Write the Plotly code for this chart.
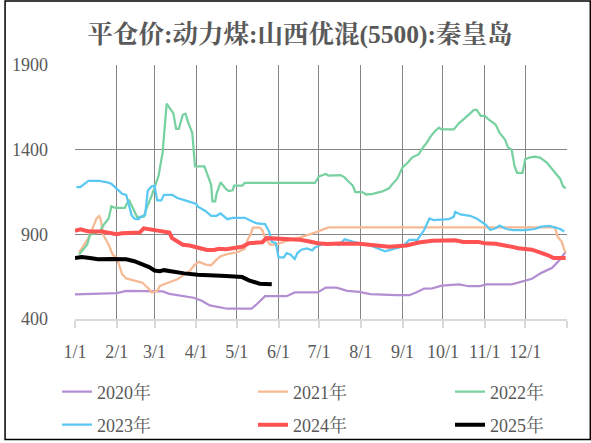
import plotly.graph_objects as go

# ---------------- data ----------------
tick_dates = ["01-01", "02-01", "03-01", "04-01", "05-01", "06-01",
              "07-01", "08-01", "09-01", "10-01", "11-01", "12-01"]
tick_labels = ["1/1", "2/1", "3/1", "4/1", "5/1", "6/1",
               "7/1", "8/1", "9/1", "10/1", "11/1", "12/1"]
y_ticks = [400, 900, 1400, 1900]

series_names = ["2020年", "2021年", "2022年", "2023年", "2024年", "2025年"]

dates_2020 = ["01-01", "02-01", "02-08", "03-07", "03-12", "03-30", "04-05", "04-11",
              "04-24", "05-12", "05-16", "05-22", "06-07", "06-13", "06-30", "07-06",
              "07-14", "07-22", "07-31", "08-08", "08-27", "09-06", "09-11", "09-17",
              "09-23", "09-30", "10-13", "10-20", "10-28", "11-02", "11-21", "11-29",
              "12-06", "12-13", "12-21", "12-26", "12-29", "12-31"]
prices_2020 = [545, 552, 565, 562, 548, 525, 507, 480,
               460, 460, 488, 534, 534, 556, 556, 585,
               585, 566, 560, 546, 540, 540, 556, 579,
               581, 597, 604, 593, 593, 604, 604, 620,
               637, 672, 702, 744, 779, 795]

dates_2021 = ["01-04", "01-08", "01-11", "01-15", "01-17", "01-19", "01-20", "01-22",
              "01-26", "01-29", "02-01", "02-03", "02-05", "02-08", "02-14", "02-20",
              "02-25", "02-27", "03-03", "03-05", "03-11", "03-18", "03-23", "03-27",
              "03-31", "04-03", "04-08", "04-12", "04-16", "04-19", "04-24", "05-02",
              "05-07", "05-09", "05-11", "05-13", "05-18", "05-20", "05-22", "05-26",
              "05-31", "06-07", "06-17", "06-28", "07-08", "12-23", "12-25", "12-28",
              "12-30", "12-31"]
prices_2021 = [792, 838, 877, 954, 993, 1007, 990, 896,
               838, 779, 760, 711, 663, 639, 628, 614,
               575, 556, 565, 595, 614, 634, 663, 682,
               721, 737, 721, 717, 750, 770, 783, 795,
               814, 867, 896, 939, 939, 925, 877, 838,
               842, 861, 882, 910, 941, 941, 886, 857,
               809, 790]

dates_2022 = ["01-04", "01-08", "01-10", "01-12", "01-16", "01-20", "01-23", "01-26",
              "01-28", "01-31", "02-07", "02-10", "02-13", "02-16", "02-21", "02-23",
              "02-27", "03-04", "03-07", "03-10", "03-15", "03-17", "03-19", "03-22",
              "03-24", "03-26", "03-29", "03-31", "04-07", "04-09", "04-12", "04-13",
              "04-15", "04-16", "04-19", "04-23", "04-25", "04-28", "04-29", "05-05",
              "05-07", "06-28", "07-01", "07-06", "07-08", "07-17", "07-20", "07-24",
              "07-26", "07-28", "08-02", "08-05", "08-10", "08-17", "08-22", "08-24",
              "08-28", "09-01", "09-05", "09-08", "09-13", "09-16", "09-19", "09-22",
              "09-25", "09-28", "09-30", "10-09", "10-13", "10-16", "10-20", "10-24",
              "10-26", "10-29", "11-01", "11-04", "11-09", "11-12", "11-16", "11-18",
              "11-21", "11-23", "11-25", "11-29", "12-01", "12-04", "12-08", "12-12",
              "12-17", "12-20", "12-24", "12-27", "12-29", "12-31"]
prices_2022 = [781, 818, 838, 896, 906, 925, 964, 993,
               1065, 1056, 1056, 1104, 1052, 1003, 1003, 1052,
               1130, 1246, 1382, 1672, 1614, 1523, 1523, 1606,
               1612, 1560, 1499, 1301, 1301, 1256, 1192, 1094,
               1094, 1139, 1207, 1168, 1155, 1160, 1188, 1188,
               1203, 1203, 1242, 1256, 1246, 1250, 1236, 1203,
               1188, 1149, 1149, 1135, 1139, 1153, 1172, 1192,
               1227, 1295, 1324, 1353, 1373, 1411, 1441, 1480,
               1509, 1530, 1519, 1519, 1557, 1577, 1606, 1635,
               1635, 1600, 1600, 1577, 1548, 1499, 1460, 1417,
               1398, 1305, 1262, 1262, 1343, 1353, 1359, 1353,
               1324, 1295, 1256, 1227, 1184, 1172]

dates_2023 = ["01-02", "01-05", "01-07", "01-11", "01-19", "01-25", "01-28", "02-01",
              "02-05", "02-08", "02-10", "02-12", "02-14", "02-17", "02-19", "02-22",
              "02-24", "02-27", "03-01", "03-03", "03-06", "03-08", "03-14", "03-18",
              "03-26", "04-01", "04-02", "04-08", "04-12", "04-16", "04-19", "04-24",
              "04-28", "05-07", "05-13", "05-16", "05-22", "05-25", "05-27", "05-30",
              "06-01", "06-05", "06-07", "06-10", "06-13", "06-15", "06-18", "06-22",
              "06-26", "06-28", "07-04", "07-10", "07-16", "07-20", "07-26", "08-04",
              "08-10", "08-19", "08-25", "09-01", "09-06", "09-12", "09-17", "09-21",
              "09-24", "10-05", "10-09", "10-10", "10-14", "10-21", "10-26", "10-30",
              "11-02", "11-05", "11-09", "11-12", "11-17", "11-22", "12-01", "12-08",
              "12-13", "12-19", "12-23", "12-27", "12-30"]
prices_2023 = [1178, 1178, 1192, 1215, 1215, 1207, 1198, 1168,
               1139, 1133, 1071, 1013, 993, 989, 1003, 1013,
               1159, 1184, 1188, 1100, 1100, 1133, 1133, 1114,
               1094, 1079, 1065, 1036, 1009, 1009, 1023, 989,
               997, 997, 974, 964, 960, 916, 857, 847,
               764, 764, 789, 779, 754, 789, 809, 816,
               805, 822, 842, 847, 838, 871, 857, 838,
               828, 799, 814, 828, 867, 867, 925, 993,
               984, 989, 1003, 1032, 1017, 1009, 993, 970,
               954, 925, 935, 951, 931, 925, 925, 931,
               945, 949, 939, 931, 916]

dates_2024 = ["01-01", "01-05", "01-09", "01-12", "01-21", "01-28", "02-01", "02-05",
              "02-18", "02-21", "02-25", "03-02", "03-08", "03-12", "03-14", "03-18",
              "03-22", "03-27", "04-02", "04-09", "04-14", "04-18", "04-23", "04-28",
              "05-05", "05-10", "05-20", "05-23", "06-07", "06-17", "06-24", "06-30",
              "07-07", "07-17", "07-31", "08-10", "08-22", "09-04", "09-13", "09-23",
              "09-30", "10-10", "10-16", "10-27", "11-01", "11-09", "11-16", "11-26",
              "12-06", "12-13", "12-18", "12-22", "12-31"]
prices_2024 = [921, 929, 921, 916, 916, 906, 900, 906,
               910, 935, 929, 921, 916, 910, 877, 857,
               838, 834, 822, 807, 807, 814, 811, 818,
               826, 847, 853, 877, 873, 867, 857, 847,
               842, 846, 844, 838, 826, 834, 851, 861,
               865, 865, 855, 855, 847, 844, 834, 818,
               809, 793, 776, 760, 760]

dates_2025 = ["01-01", "01-06", "01-12", "01-18", "01-28", "02-08", "02-14", "02-20",
              "02-25", "03-01", "03-05", "03-08", "03-15", "03-23", "04-02", "04-19",
              "04-23", "05-05", "05-10", "05-18", "05-27"]
prices_2025 = [760, 766, 760, 752, 754, 752, 741, 721,
               706, 686, 682, 688, 678, 669, 661, 659,
               653, 647, 628, 608, 604]

# ---------------- styling ----------------
BASE_YEAR = "2021-"          # common (non-leap) year used to lay month/day on one axis
SERIF = "Liberation Serif, Noto Serif CJK SC, Noto Sans CJK SC, serif"
TEXT = "#595959"
GRID = "#868686"

colors = ["#B38ED2", "#F6B993", "#78D1A0", "#5AC8F2", "#FF5353", "#000000"]
widths = [2.25, 2.25, 2.25, 2.25, 4, 4]
all_dates = [dates_2020, dates_2021, dates_2022, dates_2023, dates_2024, dates_2025]
all_prices = [prices_2020, prices_2021, prices_2022, prices_2023, prices_2024, prices_2025]

# legend entry placement (pixels in the 591x443 canvas)
leg_x_px = [57, 253, 450, 57, 253, 450]
leg_y_px = [392, 392, 392, 425, 425, 425]
W, H = 591, 443


def full(md):
    return [BASE_YEAR + d for d in md]


fig = go.Figure()
for i, name in enumerate(series_names):
    fig.add_trace(go.Scatter(
        x=full(all_dates[i]), y=all_prices[i], mode="lines", name=name,
        line=dict(color=colors[i], width=widths[i]),
        legend="legend" if i == 0 else f"legend{i + 1}",
        hoverinfo="skip",
    ))

tickvals = full(tick_dates) + ["2022-01-01"]
ticktext = tick_labels + [""]

layout = dict(
    width=W, height=H,
    paper_bgcolor="white", plot_bgcolor="white",
    margin=dict(l=71, r=24, t=65, b=122),
    showlegend=True,
    title=dict(
        text="平仓价:动力煤:山西优混(5500):秦皇岛",
        font=dict(family=SERIF, size=25.5, color=TEXT, weight="bold"),
        x=300 / W, xref="container", xanchor="center",
        y=1 - 34 / H, yref="container", yanchor="middle",
    ),
    xaxis=dict(
        type="date", range=["2021-01-01", "2022-01-01"],
        tickmode="array", tickvals=tickvals, ticktext=ticktext,
        showgrid=True, gridcolor=GRID, gridwidth=1,
        showline=True, linecolor="#D9D9D9", linewidth=2,
        ticks="outside", ticklen=7, tickwidth=2, tickcolor="#D9D9D9",
        tickfont=dict(family=SERIF, size=18, color=TEXT),
        ticklabelstandoff=8,
        zeroline=False, fixedrange=True,
    ),
    yaxis=dict(
        range=[400, 1900], tickmode="array", tickvals=y_ticks,
        showgrid=True, gridcolor=GRID, gridwidth=1,
        showline=False, ticks="", zeroline=False,
        tickfont=dict(family=SERIF, size=18, color=TEXT),
        ticklabelstandoff=26, fixedrange=True,
    ),
    shapes=[dict(
        type="rect", xref="paper", yref="paper",
        x0=(0.5 - 71) / 496, x1=(590.5 - 71) / 496,
        y0=(321 - 442.5) / 256, y1=(321 - 0.5) / 256,
        line=dict(color="black", width=1.5), fillcolor="rgba(0,0,0,0)", layer="above",
    )],
)

for i in range(6):
    key = "legend" if i == 0 else f"legend{i + 1}"
    layout[key] = dict(
        orientation="h", xref="container", yref="container",
        x=leg_x_px[i] / W, xanchor="left",
        y=1 - leg_y_px[i] / H, yanchor="middle",
        font=dict(family=SERIF, size=18, color=TEXT),
        bgcolor="rgba(0,0,0,0)", borderwidth=0,
    )

fig.update_layout(**layout)
# the page's default 8px body margin would shift the 591x443 figure; remove it
fig.write_html("out.html", config={"displayModeBar": False},
               post_script="document.body.style.margin='0px';")
